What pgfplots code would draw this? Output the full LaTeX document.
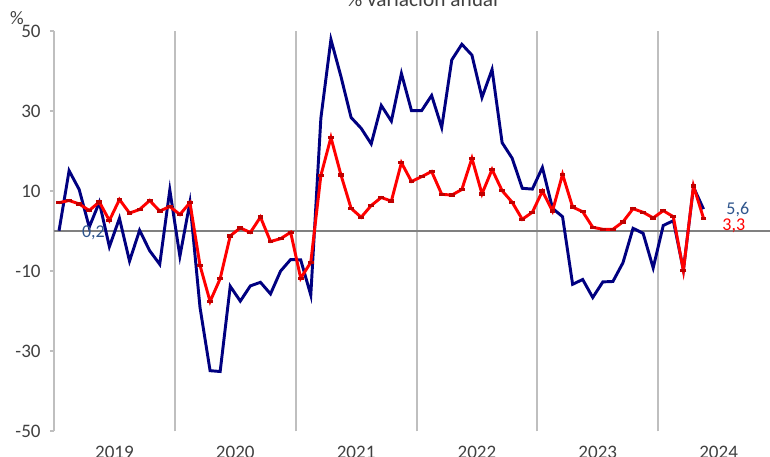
\documentclass[border=0pt]{standalone}
\usepackage{fontspec}
\setmainfont{Carlito}
\usepackage{pgfplots}
\pgfplotsset{compat=1.18}
\definecolor{navy}{RGB}{0,0,128}
\definecolor{lblue}{RGB}{47,85,140}
\definecolor{gridg}{RGB}{191,191,191}
\definecolor{zerog}{RGB}{128,128,128}
\definecolor{txtg}{RGB}{64,64,64}
\definecolor{mkred}{RGB}{192,0,0}
\begin{document}
\begin{tikzpicture}
\begin{axis}[name=ax,
 width=537pt, height=300pt, scale only axis,
 xmin=-0.5, xmax=70.6, ymin=-50, ymax=50,
 axis x line*=bottom, axis y line*=left,
 axis line style={-},
 x axis line style={draw=none},
 y axis line style={draw=gridg, line width=1.5pt},
 ytick={-50,-30,-10,10,30,50},
 yticklabels={-50,-30,-10,10,30,50},
 tick align=outside, major tick length=3pt, minor tick length=0pt,
 ytick style={draw=gridg, line width=1.5pt},
 xtick={5.5,17.5,29.5,41.5,53.5,65.5},
 xticklabels={2019,2020,2021,2022,2023,2024},
 xtick style={draw=none},
 minor xtick={11.5,23.5,35.5,47.5,59.5},
 xminorgrids, minor x grid style={draw=gridg, line width=1.5pt},
 ticklabel style={font=\fontsize{14.3}{16}\selectfont, text=txtg},
 xticklabel style={yshift=-4.5pt},
 yticklabel style={xshift=-3.5pt},
 clip=false,
]
\draw[zerog, line width=1.5pt] (axis cs:-0.5,0) -- (axis cs:70.6,0);
\addplot[navy, line width=2.2pt, mark=none] coordinates {
(0,0.2)(1,15.2)(2,10.5)(3,1.1)(4,7.3)(5,-3.8)(6,3.3)(7,-7.4)(8,0.3)(9,-4.8)(10,-8.2)(11,10.4)
(12,-6.2)(13,7.3)(14,-19)(15,-34.8)(16,-35.0)(17,-13.7)(18,-17.4)(19,-13.6)(20,-12.7)(21,-15.6)(22,-9.9)(23,-7.0)
(24,-7.1)(25,-15.9)(26,28.3)(27,48.0)(28,38.7)(29,28.5)(30,25.8)(31,21.9)(32,31.5)(33,27.6)(34,39.5)(35,30.2)
(36,30.2)(37,34.0)(38,26.0)(39,42.9)(40,46.8)(41,44.1)(42,33.5)(43,40.5)(44,22.2)(45,18.3)(46,10.8)(47,10.6)
(48,16.0)(49,5.8)(50,3.7)(51,-13.2)(52,-12.0)(53,-16.5)(54,-12.6)(55,-12.5)(56,-7.8)(57,0.8)(58,-0.45)(59,-9.1)
(60,1.5)(61,2.7)(62,-9.6)(63,11.1)(64,5.6)
};
\addplot[red, line width=2.2pt, mark=-, mark size=2.2pt, mark options={draw=mkred, line width=2.6pt}] coordinates {
(0,7.2)(1,7.75)(2,6.9)(3,5.25)(4,7.4)(5,2.75)(6,8.0)(7,4.6)(8,5.5)(9,7.75)(10,5.1)(11,6.25)
(12,4.25)(13,7.2)(14,-8.5)(15,-17.5)(16,-11.8)(17,-1.1)(18,0.9)(19,-0.25)(20,3.6)(21,-2.5)(22,-1.8)(23,-0.2)
(24,-11.7)(25,-7.7)(26,14.0)(27,23.5)(28,14.1)(29,5.8)(30,3.55)(31,6.5)(32,8.5)(33,7.6)(34,17.2)(35,12.5)
(36,13.7)(37,15.0)(38,9.3)(39,9.1)(40,10.5)(41,18.3)(42,9.4)(43,15.5)(44,10.2)(45,7.3)(46,3.05)(47,4.8)
(48,10.1)(49,5.1)(50,14.3)(51,6.1)(52,4.95)(53,1.05)(54,0.55)(55,0.55)(56,2.4)(57,5.7)(58,4.8)(59,3.4)
(60,5.2)(61,3.7)(62,-9.8)(63,11.4)(64,3.3)
};
\node[text=lblue, font=\fontsize{13.5}{15}\selectfont] at (axis cs:3.42,-0.25) {0,2};
\node[text=lblue, font=\fontsize{13.5}{15}\selectfont] at (axis cs:67.4,5.5) {5,6};
\node[text=red, font=\fontsize{13.5}{15}\selectfont] at (axis cs:67.0,1.5) {3,3};
\node[anchor=base, text=txtg, font=\fontsize{16}{18}\selectfont] at ([yshift=18.4pt]axis cs:36.1,50) {\% variación anual};
\node[text=txtg, font=\fontsize{14.3}{16}\selectfont] at ([xshift=-27.75pt,yshift=10.1pt]rel axis cs:0,1) {\%};
\end{axis}
\pgfresetboundingbox
\path ([xshift=-40.5pt,yshift=-19.125pt]ax.south west) rectangle ([yshift=23.625pt]ax.north east);
\end{tikzpicture}
\end{document}
